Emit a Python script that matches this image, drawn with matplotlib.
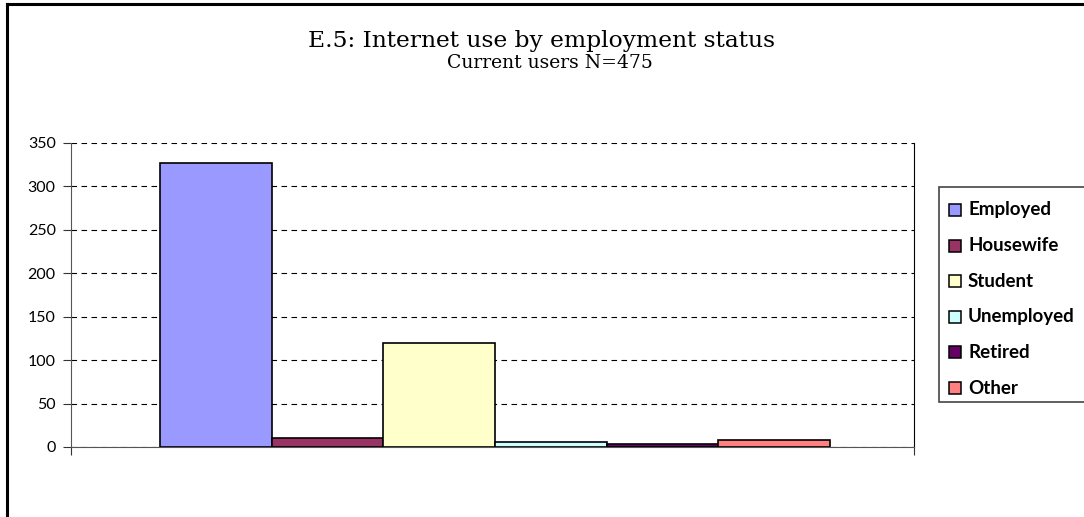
import matplotlib
matplotlib.use("Agg")
import matplotlib.pyplot as plt
from matplotlib.patches import Rectangle
from matplotlib.lines import Line2D

categories = ["Employed", "Housewife", "Student", "Unemployed", "Retired", "Other"]
values = [327, 10, 120, 6, 4, 8]
colors = ["#9999FF", "#993366", "#FFFFCC", "#CCFFFF", "#660066", "#FF8080"]
yticks = [0, 50, 100, 150, 200, 250, 300, 350]
title = "E.5: Internet use by employment status"
subtitle = "Current users N=475"

W, H = 1084, 517
fig = plt.figure(figsize=(W / 100, H / 100), dpi=100)
fig.patch.set_facecolor("white")


def fx(px):
    return px / W


def fy(py):
    return 1 - py / H


# outer frame (left and top visible)
fig.add_artist(Line2D([fx(6.5), fx(6.5)], [0, fy(3.5)], color="black", lw=2.2, transform=fig.transFigure))
fig.add_artist(Line2D([fx(6.5), 1], [fy(3.5), fy(3.5)], color="black", lw=2.2, transform=fig.transFigure))

ax = fig.add_axes([fx(71), fy(447), (914 - 71) / W, (447 - 143) / H])
x = list(range(len(categories)))
for xi, v, c in zip(x, values, colors):
    ax.bar(xi, v, width=1.0, color=c, edgecolor="black", linewidth=1.2, zorder=3)

xmin, xmax = -1.295, 6.25
ax.set_xlim(xmin, xmax)
ax.set_ylim(0, 350)
ax.set_yticks(yticks)
ax.set_yticklabels([str(t) for t in yticks], fontfamily="Lato", fontsize=11.5)
ax.yaxis.grid(True, linestyle=(0, (5, 4)), color="black", linewidth=0.8)
ax.set_axisbelow(True)
ax.set_xticks([xmin, xmax])
ax.set_xticklabels(["", ""])
ax.spines["top"].set_visible(False)
ax.spines["right"].set_color("black")
ax.spines["left"].set_color("#555555")
ax.spines["bottom"].set_color("#555555")
ax.tick_params(axis="y", direction="out", length=6, color="#333333", pad=5)
ax.tick_params(axis="x", direction="out", length=6, color="#333333")

fig.text(0.5, fy(41), title, ha="center", va="center", fontfamily="DejaVu Serif", fontsize=16.8)
fig.text(fx(550), fy(63), subtitle, ha="center", va="center", fontfamily="DejaVu Serif", fontsize=13.5)

# legend box (right side runs off the image)
fig.add_artist(Rectangle((fx(939), fy(402)), fx(1110) - fx(939), fy(187) - fy(402),
                         transform=fig.transFigure, facecolor="white", edgecolor="#444444", lw=1.2))
for i, (lab, c) in enumerate(zip(categories, colors)):
    yc = 210 + i * 35.6
    fig.add_artist(Rectangle((fx(949), fy(yc + 6)), fx(12), 12 / H,
                             transform=fig.transFigure, facecolor=c, edgecolor="black", lw=1.1))
    fig.text(fx(968), fy(yc), lab, ha="left", va="center", fontfamily="Lato",
             fontweight="bold", fontsize=13.5)

fig.savefig("out.png", dpi=100)
